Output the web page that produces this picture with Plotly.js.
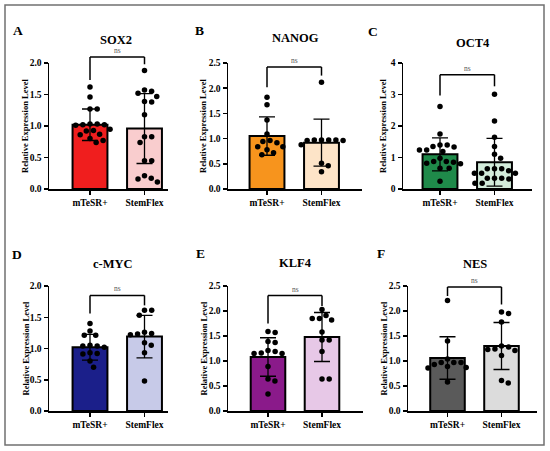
<!DOCTYPE html>
<html>
<head>
<meta charset="utf-8">
<script src="https://cdn.plot.ly/plotly-3.0.1.min.js"></script>
<style>html,body{margin:0;padding:0;background:#fff;}#chart{width:550px;height:451px;}</style>
</head>
<body>
<div id="chart"></div>
<script>
// ---------------- DATA ----------------
var genes = ['SOX2', 'NANOG', 'OCT4', 'c-MYC', 'KLF4', 'NES'];
var letters = ['A', 'B', 'C', 'D', 'E', 'F'];
var categories = ['mTeSR+', 'StemFlex'];
var yMax = [2, 2.5, 4, 2, 2.5, 2.5];
var yStep = [0.5, 0.5, 1, 0.5, 0.5, 0.5];

var means = [
  [1.02, 0.96],
  [1.05, 0.92],
  [1.10, 0.85],
  [1.02, 1.19],
  [1.08, 1.48],
  [1.06, 1.30]
];
var sds = [
  [0.25, 0.555],
  [0.38, 0.465],
  [0.525, 0.76],
  [0.205, 0.34],
  [0.385, 0.49],
  [0.425, 0.47]
];

var sox2_mTeSR = [1.62, 1.46, 1.27, 1.27, 1.03, 1.03, 1.02, 1.02, 1.01, 0.95, 0.93, 0.92, 0.87, 0.86, 0.80, 0.77, 0.74];
var sox2_StemFlex = [1.88, 1.57, 1.55, 1.52, 1.47, 1.39, 1.38, 1.18, 0.83, 0.83, 0.74, 0.45, 0.45, 0.21, 0.17, 0.16, 0.11];
var nanog_mTeSR = [1.82, 1.67, 1.37, 1.09, 0.96, 0.94, 0.92, 0.84, 0.84, 0.78, 0.72, 0.68];
var nanog_StemFlex = [2.12, 0.97, 0.97, 0.97, 0.97, 0.96, 0.96, 0.88, 0.51, 0.46, 0.34];
var oct4_mTeSR = [2.62, 1.75, 1.40, 1.40, 1.35, 1.33, 1.24, 1.24, 1.19, 0.98, 0.87, 0.87, 0.85, 0.82, 0.80, 0.66, 0.66, 0.25];
var oct4_StemFlex = [3.01, 2.16, 1.64, 1.35, 1.10, 0.98, 0.64, 0.64, 0.64, 0.58, 0.50, 0.50, 0.50, 0.34, 0.34, 0.34, 0.32, 0.18, 0.18];
var cmyc_mTeSR = [1.40, 1.28, 1.21, 1.21, 1.05, 1.04, 1.04, 1.02, 0.93, 0.92, 0.91, 0.80, 0.70];
var cmyc_StemFlex = [1.61, 1.61, 1.53, 1.26, 1.24, 1.23, 1.22, 1.09, 1.05, 0.93, 0.48];
var klf4_mTeSR = [1.59, 1.57, 1.39, 1.37, 1.21, 1.19, 1.16, 1.15, 1.15, 0.89, 0.64, 0.60, 0.34];
var klf4_StemFlex = [2.03, 1.91, 1.85, 1.85, 1.82, 1.58, 1.42, 1.42, 1.19, 0.64, 0.64];
var nes_mTeSR = [2.21, 1.40, 1.04, 0.97, 0.97, 0.97, 0.93, 0.89, 0.87, 0.86, 0.58];
var nes_StemFlex = [1.98, 1.95, 1.78, 1.30, 1.28, 1.24, 1.23, 1.21, 1.11, 0.61, 0.56];

var points = [
  [sox2_mTeSR, sox2_StemFlex],
  [nanog_mTeSR, nanog_StemFlex],
  [oct4_mTeSR, oct4_StemFlex],
  [cmyc_mTeSR, cmyc_StemFlex],
  [klf4_mTeSR, klf4_StemFlex],
  [nes_mTeSR, nes_StemFlex]
];

// significance bracket: [bar height, left leg end, right leg end]
var brackets = [
  [2.095, 1.73, 1.98],
  [2.42, 2.02, 2.25],
  [3.63, 2.97, 3.26],
  [1.85, 1.56, 1.69],
  [2.31, 1.75, 2.10],
  [2.48, 2.30, 2.13]
];
var sigLabel = 'ns';

// ---------------- STYLE / LAYOUT ----------------
var darkColors = ['#F01E1E', '#F7941D', '#1F8A4A', '#1B1F8A', '#8A1A8A', '#5A5A5A'];
var lightColors = ['#F9CDCE', '#FDE4C8', '#D3ECDB', '#C7CAE8', '#E7C8E7', '#DCDCDC'];

var W = 550, H = 451;
// pixel geometry of each panel: y-axis x, x-axis end, category centres, y top / zero pixel
var geom = [
  {x0: 49, x1: 168, c0: 90, c1: 144.5, top: 63, zero: 189, title: [116, 40], letter: [18, 31], ytitle: 25},
  {x0: 228, x1: 362, c0: 267, c1: 321.5, top: 63, zero: 189, title: [295, 38], letter: [199, 30], ytitle: 203},
  {x0: 403, x1: 532, c0: 440, c1: 494.5, top: 63, zero: 189, title: [473, 43], letter: [373, 32], ytitle: 383},
  {x0: 49, x1: 168, c0: 90, c1: 144.5, top: 286, zero: 411, title: [113, 264], letter: [17, 254], ytitle: 25},
  {x0: 228, x1: 363, c0: 268, c1: 322, top: 286, zero: 411, title: [295, 263], letter: [200, 253], ytitle: 203},
  {x0: 408, x1: 537, c0: 447.5, c1: 501.5, top: 286, zero: 411, title: [475, 264], letter: [381, 253], ytitle: 383}
];

var FONT = 'Liberation Serif, Times New Roman, serif';
var data = [], shapes = [], annotations = [];
var layout = {
  width: W, height: H,
  margin: {l: 0, r: 0, t: 0, b: 0},
  paper_bgcolor: '#ffffff', plot_bgcolor: 'rgba(0,0,0,0)',
  showlegend: false,
  font: {family: FONT, color: '#000'}
};

for (var p = 0; p < 6; p++) {
  var g = geom[p];
  var u = g.c1 - g.c0;                // pixels per x unit
  var r0 = (g.x0 - g.c0) / u, r1 = 1 + (g.x1 - g.c1) / u;
  var pxPerY = (g.zero - g.top) / yMax[p];
  var sfx = p === 0 ? '' : String(p + 1);
  var xa = 'x' + sfx, ya = 'y' + sfx;

  layout['xaxis' + sfx] = {
    domain: [g.x0 / W, g.x1 / W], range: [r0, r1], anchor: ya,
    tickvals: [0, 1], ticktext: categories,
    ticks: 'outside', ticklen: 4, tickwidth: 1.5, tickcolor: '#000',
    showline: true, linewidth: 1.5, linecolor: '#000',
    showgrid: false, zeroline: false, fixedrange: true,
    tickfont: {family: FONT, size: 9.5, weight: 700, color: '#000'}
  };
  layout['yaxis' + sfx] = {
    domain: [1 - g.zero / H, 1 - g.top / H], range: [0, yMax[p]], anchor: xa,
    dtick: yStep[p], tick0: 0, tickformat: yStep[p] < 1 ? '.1f' : 'd',
    ticks: 'outside', ticklen: 4, tickwidth: 1.5, tickcolor: '#000',
    showline: true, linewidth: 1.5, linecolor: '#000',
    showgrid: false, zeroline: false, fixedrange: true,
    tickfont: {family: FONT, size: 9.5, weight: 700, color: '#000'}
  };

  // bars with SD error bars
  data.push({
    type: 'bar', x: [0, 1], y: means[p], width: 0.64,
    xaxis: xa, yaxis: ya,
    marker: {color: [darkColors[p], lightColors[p]], line: {color: '#000', width: 2}},
    error_y: {type: 'data', array: sds[p], visible: true, color: '#000', thickness: 1.3, width: 8},
    hoverinfo: 'skip'
  });

  // individual points arranged as a beeswarm (derived from the values)
  var D = 7.2;
  for (var c = 0; c < 2; c++) {
    var vals = points[p][c];
    var placed = [];
    var xs = [];
    var order = vals.map(function (v, i) { return i; });
    order.sort(function (a, b) { return vals[b] - vals[a]; });
    var offsets = new Array(vals.length);
    order.forEach(function (i) {
      var py = vals[i] * pxPerY;
      var forb = [];
      placed.forEach(function (q) {
        var dy = Math.abs(q.py - py);
        if (dy < D) {
          var h = Math.sqrt(D * D - dy * dy);
          forb.push([q.px - h, q.px + h]);
        }
      });
      var cands = [0];
      forb.forEach(function (f) { cands.push(f[0], f[1]); });
      cands.sort(function (a, b) { return Math.abs(a) - Math.abs(b) || b - a; });
      var best = 0;
      for (var k = 0; k < cands.length; k++) {
        var x = cands[k];
        var ok = forb.every(function (f) { return x <= f[0] + 1e-6 || x >= f[1] - 1e-6; });
        if (ok) { best = x; break; }
      }
      placed.push({px: best, py: py});
      offsets[i] = best;
    });
    for (var j = 0; j < vals.length; j++) xs.push(c + offsets[j] / u);
    data.push({
      type: 'scatter', mode: 'markers', x: xs, y: vals,
      xaxis: xa, yaxis: ya, cliponaxis: false,
      marker: {color: '#000', size: 5.5},
      hoverinfo: 'skip'
    });
  }

  // helpers converting data -> paper
  var yp = function (v) { return 1 - (g.zero - v * pxPerY) / H; };
  var xl = g.c0 / W, xr = g.c1 / W;
  var br = brackets[p];
  var lineStyle = {color: '#000', width: 1.5};
  shapes.push({type: 'line', xref: 'paper', yref: 'paper', x0: xl, x1: xr, y0: yp(br[0]), y1: yp(br[0]), line: lineStyle});
  shapes.push({type: 'line', xref: 'paper', yref: 'paper', x0: xl, x1: xl, y0: yp(br[0]), y1: yp(br[1]), line: lineStyle});
  shapes.push({type: 'line', xref: 'paper', yref: 'paper', x0: xr, x1: xr, y0: yp(br[0]), y1: yp(br[2]), line: lineStyle});
  annotations.push({xref: 'paper', yref: 'paper', x: (xl + xr) / 2, y: yp(br[0]), yanchor: 'bottom', xanchor: 'center',
    text: sigLabel, showarrow: false, font: {family: FONT, size: 7.5, color: '#555'}});

  // title, panel letter, y title
  annotations.push({xref: 'paper', yref: 'paper', x: g.title[0] / W, y: 1 - g.title[1] / H, xanchor: 'center', yanchor: 'middle',
    text: genes[p], showarrow: false, font: {family: FONT, size: 12.5, weight: 700, color: '#000'}});
  annotations.push({xref: 'paper', yref: 'paper', x: g.letter[0] / W, y: 1 - g.letter[1] / H, xanchor: 'center', yanchor: 'middle',
    text: letters[p], showarrow: false, font: {family: FONT, size: 13.5, weight: 700, color: '#000'}});
  annotations.push({xref: 'paper', yref: 'paper', x: g.ytitle / W, y: 1 - ((g.top + g.zero) / 2) / H, xanchor: 'center', yanchor: 'middle',
    text: 'Relative Expression Level', textangle: -90, showarrow: false, font: {family: FONT, size: 8.5, weight: 700, color: '#000'}});
}

// outer frame
shapes.push({type: 'rect', xref: 'paper', yref: 'paper', x0: 5 / W, x1: 544 / W, y0: 1 - 445 / H, y1: 1 - 5 / H,
  line: {color: '#707070', width: 1.5}, fillcolor: 'rgba(0,0,0,0)', layer: 'below'});

layout.shapes = shapes;
layout.annotations = annotations;

Plotly.newPlot('chart', data, layout, {displayModeBar: false, staticPlot: true});
</script>
</body>
</html>
